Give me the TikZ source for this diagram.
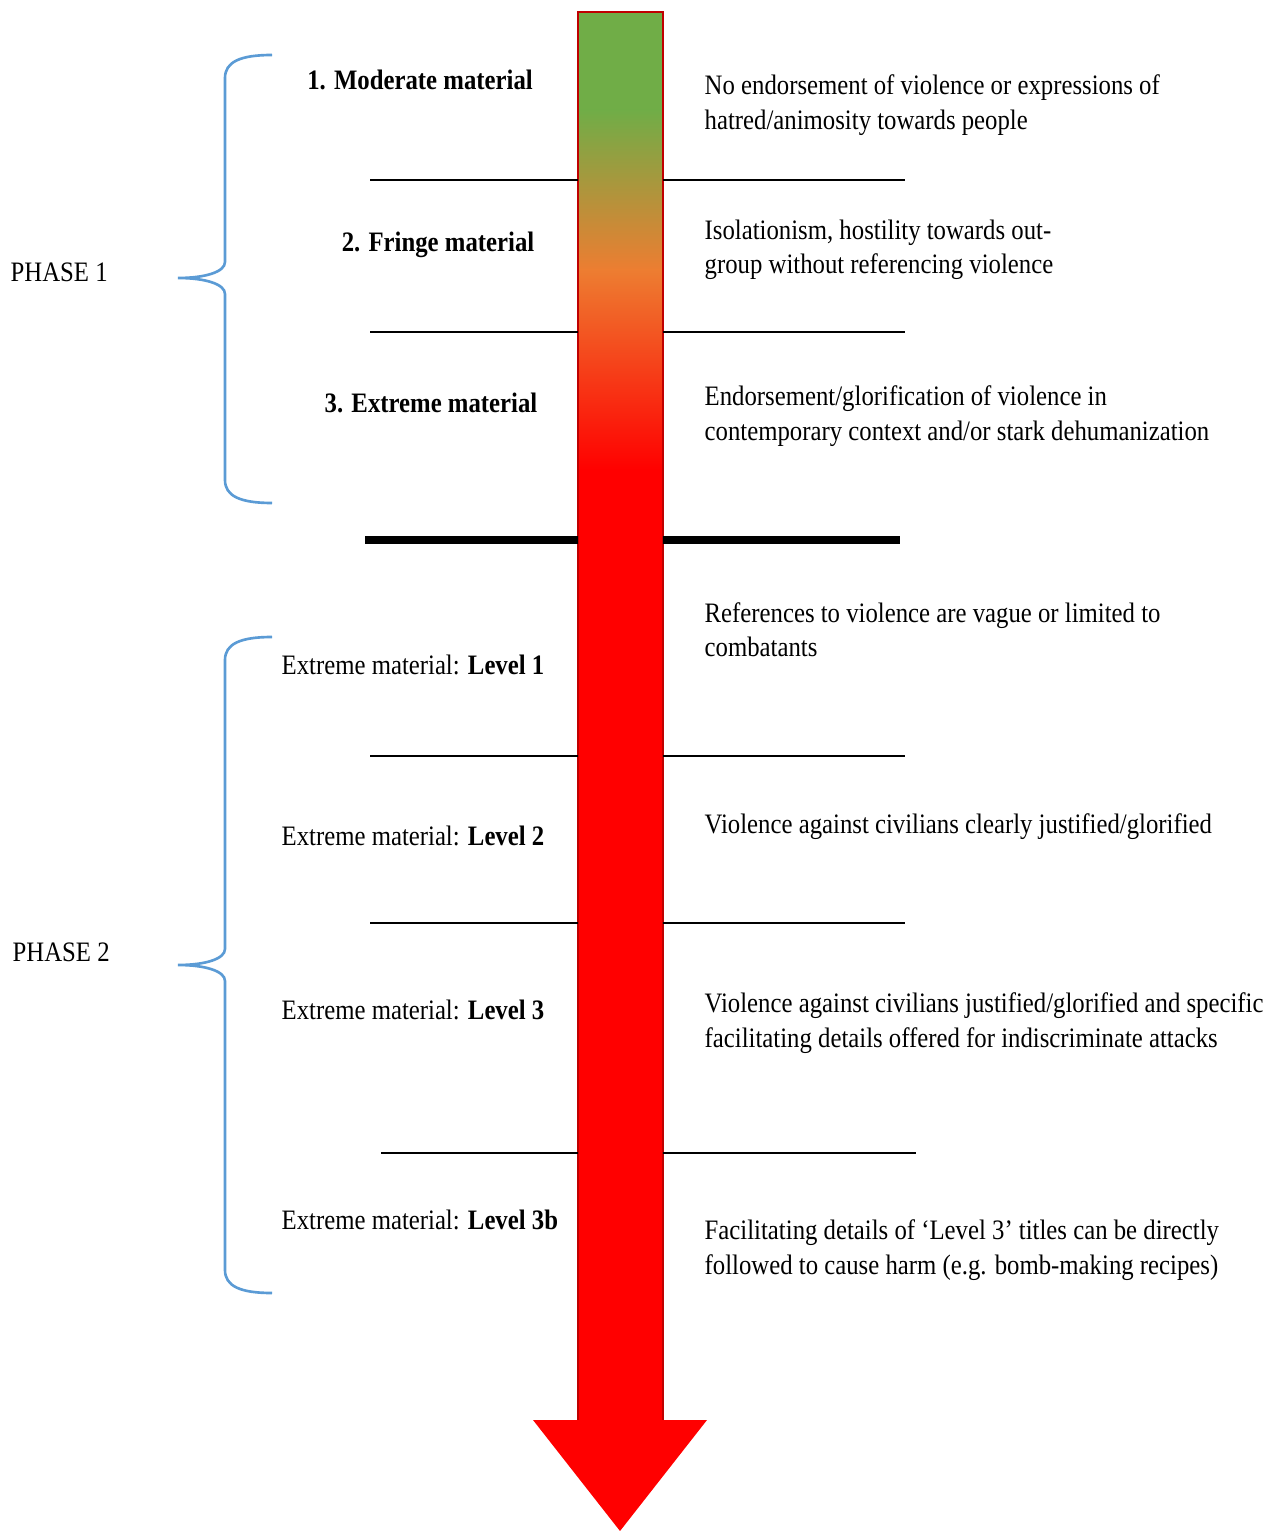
\documentclass[tikz,border=0pt]{standalone}
\usepackage{fontspec}
\setmainfont{Liberation Serif}[FakeStretch=0.88]
\definecolor{brgreen}{HTML}{70AD47}
\definecolor{brorange}{HTML}{ED7D31}
\definecolor{brblue}{HTML}{5B9BD5}
\definecolor{brdark}{HTML}{C00000}
\begin{document}
\begin{tikzpicture}[x=0.01cm,y=-0.01cm,
  txt/.style={inner sep=0pt,align=left,font=\fontsize{8pt}{9.8pt}\selectfont},
  head/.style={txt,font=\fontsize{8pt}{9.8pt}\selectfont\bfseries},
  sep/.style={line width=0.75pt},
  brace/.style={brblue,line width=0.75pt}]
\useasboundingbox (0,0) rectangle (1284,1531);
% arrow: shaft in four bands, then head
\fill[brgreen] (578,12) rectangle (663,111);
\shade[top color=brgreen,bottom color=brorange] (578,110) rectangle (663,271);
\shade[top color=brorange,bottom color=red] (578,270) rectangle (663,471);
\fill[red] (578,470) rectangle (663,1421);
\draw[brdark,line width=0.8pt] (578,1420) -- (578,12) -- (663,12) -- (663,1420);
\fill[red] (533,1420) -- (707,1420) -- (620,1531) -- cycle;
% separators, left and right of the shaft
\draw[sep] (370,180) -- (578,180) (663,180) -- (905,180);
\draw[sep] (370,332) -- (578,332) (663,332) -- (905,332);
\draw[line width=2pt] (365,540) -- (578,540) (663,540) -- (900,540);
\draw[sep] (370,756) -- (578,756) (663,756) -- (905,756);
\draw[sep] (370,923) -- (578,923) (663,923) -- (905,923);
\draw[sep] (381,1153) -- (578,1153) (663,1153) -- (916,1153);
% braces
\draw[brace] (272,55) .. controls (240,55) and (225,62) .. (225,78) -- (225,262)
  .. controls (225,272) and (205,278) .. (178,278)
  .. controls (205,278) and (225,284) .. (225,294) -- (225,480)
  .. controls (225,496) and (240,503) .. (272,503);
\draw[brace] (272,637) .. controls (240,637) and (225,644) .. (225,660) -- (225,949)
  .. controls (225,959) and (205,965) .. (178,965)
  .. controls (205,965) and (225,971) .. (225,981) -- (225,1270)
  .. controls (225,1286) and (240,1293) .. (272,1293);
\node[txt,anchor=west] (ph1) at (10,272) {PHASE 1};
\node[txt,anchor=west] (ph2) at (12,952) {PHASE 2};
% col, row
\node[head] (mod) at (420,80) {1. Moderate material};
\node[head] (fringe) at (438,245) {2. Fringe material};
\node[head] (extr) at (431,403) {3. Extreme material};
\node[txt,anchor=west] (lvl1) at (281,665) {Extreme material: \textbf{Level 1}};
\node[txt,anchor=west] (lvl2) at (281,836) {Extreme material: \textbf{Level 2}};
\node[txt,anchor=west] (lvl3) at (281,1010) {Extreme material: \textbf{Level 3}};
\node[txt,anchor=west] (lvl3b) at (281,1220) {Extreme material: \textbf{Level 3b}};
\node[txt,anchor=west] (dmod) at (704,105) {No endorsement of violence or expressions of\\hatred/animosity towards people};
\node[txt,anchor=west] (dfringe) at (704,250) {Isolationism, hostility towards out-\\group without referencing violence};
\node[txt,anchor=west] (dextr) at (704,416) {Endorsement/glorification of violence in\\contemporary context and/or stark dehumanization};
\node[txt,anchor=west] (dlvl1) at (704,630) {References to violence are vague or limited to\\combatants};
\node[txt,anchor=west] (dlvl2) at (704,827) {Violence against civilians clearly justified/glorified};
\node[txt,anchor=west] (dlvl3) at (704,1023) {Violence against civilians justified/glorified and specific\\facilitating details offered for indiscriminate attacks};
\node[txt,anchor=west] (dlvl3b) at (704,1250) {Facilitating details of ‘Level 3’ titles can be directly\\followed to cause harm (e.g. bomb-making recipes)};
\end{tikzpicture}
\end{document}
